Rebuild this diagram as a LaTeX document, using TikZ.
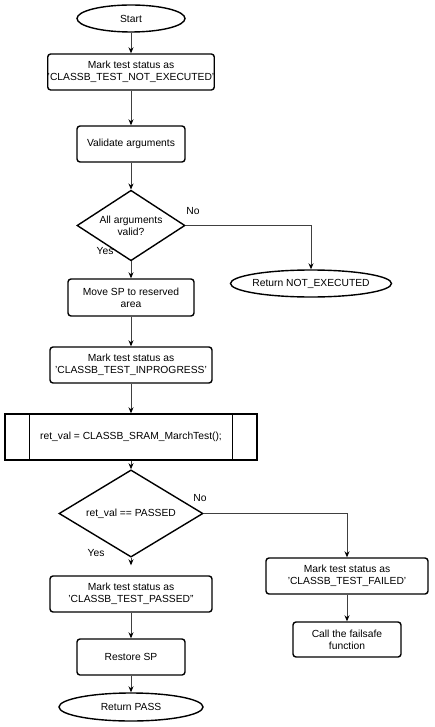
\documentclass[tikz,border=0pt]{standalone}
\usepackage{fontspec}
\setmainfont{Liberation Sans}
\usetikzlibrary{shapes.geometric,arrows.meta}
\begin{document}
\begin{tikzpicture}[x=1pt,y=-1pt,
	font=\fontsize{10.3}{12}\selectfont,
	stepbox/.style={draw, line width=1.4pt, rounded corners=3pt, align=center, inner sep=0pt, minimum height=36pt},
	termbox/.style={draw, ellipse, line width=1.4pt, inner sep=-6pt, minimum height=27pt},
	askbox/.style={draw, diamond, line width=1.4pt, align=center, inner sep=-3pt},
	flow/.style={line width=0.8pt, draw=black!75, -{Stealth[length=6pt,width=5pt,black]}}]
	\useasboundingbox (0,0) rectangle (435,727);
	\node[termbox, minimum width=108pt] (start) at (131,18.5) {Start};
	\node[stepbox, minimum width=162pt] (notrun) at (131,72) {Mark test status as\\'CLASSB\_TEST\_NOT\_EXECUTED'};
	\node[stepbox, minimum width=108pt] (validate) at (131,144) {Validate arguments};
	\node[askbox, minimum width=108pt, minimum height=54pt] (argsok) at (131,225.5) {All arguments\\valid?};
	\node[termbox, minimum width=161pt] (retnotrun) at (311,283.5) {Return NOT\_EXECUTED};
	\node[stepbox, minimum width=126pt, minimum height=37pt] (movesp) at (131,297.5) {Move SP to reserved\\area};
	\node[stepbox, minimum width=162pt] (inprog) at (131,365) {Mark test status as\\'CLASSB\_TEST\_INPROGRESS'};
	\node[draw, line width=1.4pt, minimum width=252pt, minimum height=46pt, inner sep=0pt] (march) at (131,437) {ret\_val = CLASSB\_SRAM\_MarchTest();};
	\draw[line width=1.4pt] ([xshift=25pt]march.north west) -- ([xshift=25pt]march.south west);
	\draw[line width=1.4pt] ([xshift=-25pt]march.north east) -- ([xshift=-25pt]march.south east);
	\node[askbox, minimum width=144pt, minimum height=55pt] (passchk) at (131,513.5) {ret\_val == PASSED};
	\node[stepbox, minimum width=162pt] (passed) at (131,594) {Mark test status as\\'CLASSB\_TEST\_PASSED"};
	\node[stepbox, minimum width=108pt] (restore) at (131,657) {Restore SP};
	\node[termbox, minimum width=144pt, minimum height=28pt] (retpass) at (131,707) {Return PASS};
	\node[stepbox, minimum width=162pt] (failed) at (347,576) {Mark test status as\\'CLASSB\_TEST\_FAILED'};
	\node[stepbox, minimum width=108pt, minimum height=35pt] (failsafe) at (347,639.5) {Call the failsafe\\function};
	\node (argsno) at (193,211) {No};
	\node (argsyes) at (105,251) {Yes};
	\node (passno) at (200,498) {No};
	\node (passyes) at (96,553) {Yes};
	\draw[flow] (start) -- (notrun);
	\draw[flow] (notrun) -- (validate);
	\draw[flow] (validate) -- (argsok);
	\draw[flow] (argsok.east) -| (retnotrun.north);
	\draw[flow] (argsok) -- (movesp);
	\draw[flow] (movesp) -- (inprog);
	\draw[flow] (inprog) -- (march);
	\draw[flow] (march) -- (passchk);
	\draw[flow, shorten >=10pt] (passchk) -- (passed);
	\draw[flow] (passchk.east) -| (failed.north);
	\draw[flow] (failed) -- (failsafe);
	\draw[flow] (passed) -- (restore);
	\draw[flow] (restore) -- (retpass);
\end{tikzpicture}
\end{document}
